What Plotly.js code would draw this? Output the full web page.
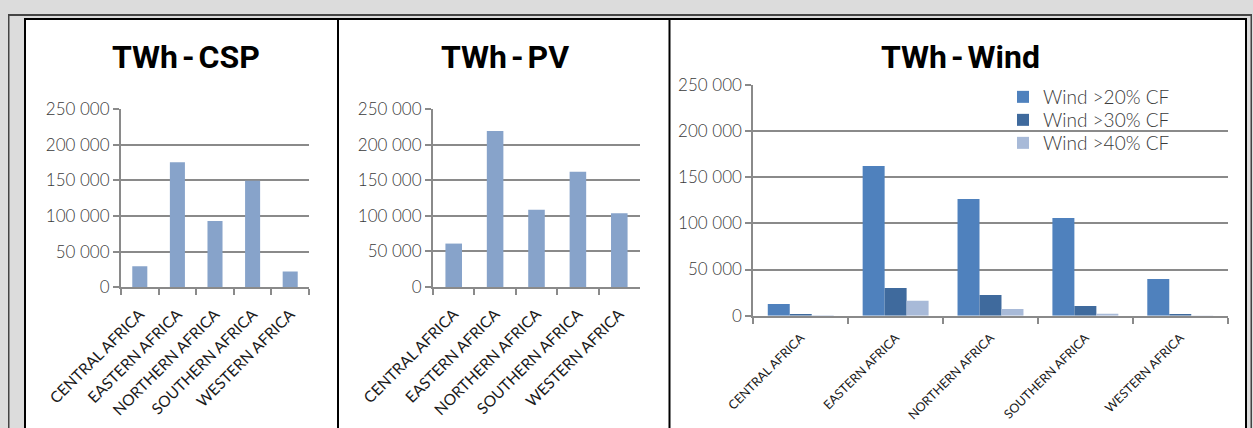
<!DOCTYPE html>
<html><head><meta charset="utf-8">
<script src="https://cdn.plot.ly/plotly-3.0.1.min.js"></script>
<style>
html,body{margin:0;padding:0;background:#dcdcdc;overflow:hidden}
.annotation-text{word-spacing:-4px}
</style>
</head><body><div id="chart" style="width:1253px;height:428px"></div>
<script>
const regions = ['CENTRAL AFRICA','EASTERN AFRICA','NORTHERN AFRICA','SOUTHERN AFRICA','WESTERN AFRICA'];
const cspTWh = [29500,175500,93000,149500,22000];
const pvTWh = [61000,219000,108500,162000,103500];
const wind20 = [12600,162000,126300,105700,39700];
const wind30 = [1800,30000,22400,10500,1800];
const wind40 = [500,16200,7200,2200,300];
const windNames = ['Wind >20% CF','Wind >30% CF','Wind >40% CF'];
const chartTitles = ['TWh - CSP','TWh - PV','TWh - Wind'];
const yTickVals = [0,50000,100000,150000,200000,250000];

const W = 1253, H = 428;
const px = x => x / W;
const py = y => 1 - y / H;

const FONT = 'Lato, "Open Sans", sans-serif';
const TFONT = 'Roboto, "DejaVu Sans Condensed", sans-serif';
const GRID = '#8a8a8a';

const soft = '#87a3ca';
const windColors = ['#4f81bd','#3f6a9d','#a8bad8'];

const traces = [
  {type:'bar', x:regions, y:cspTWh, xaxis:'x', yaxis:'y', width:0.4, marker:{color:soft}, showlegend:false, hoverinfo:'y'},
  {type:'bar', x:regions, y:pvTWh, xaxis:'x2', yaxis:'y2', width:0.4, marker:{color:soft}, showlegend:false, hoverinfo:'y'},
  {type:'bar', x:regions, y:wind20, name:windNames[0], xaxis:'x3', yaxis:'y3', legend:'legend', marker:{color:windColors[0]}},
  {type:'bar', x:regions, y:wind30, name:windNames[1], xaxis:'x3', yaxis:'y3', legend:'legend2', marker:{color:windColors[1]}},
  {type:'bar', x:regions, y:wind40, name:windNames[2], xaxis:'x3', yaxis:'y3', legend:'legend3', marker:{color:windColors[2]}}
];

function yax(top, bottom, anchor){
  return {domain:[py(bottom), py(top)], anchor:anchor, range:[0,250000], tickvals:yTickVals,
    tickformat:',', showgrid:true, gridcolor:GRID, gridwidth:2, zeroline:false,
    showline:true, linecolor:GRID, linewidth:2, ticks:'outside', ticklen:6, tickwidth:2, tickcolor:GRID,
    tickfont:{family:FONT, size:17, color:'#3a3a3a', weight:300}, fixedrange:true};
}
function xax(left, right, anchor, fs, standoff){
  return {domain:[px(left), px(right)], anchor:anchor, type:'category', showgrid:false, zeroline:false,
    showline:true, linecolor:GRID, linewidth:2, ticks:'outside', tickson:'boundaries', ticklen:6, tickwidth:2, tickcolor:GRID,
    tickangle:-45, ticklabelstandoff:standoff, tickfont:{family:FONT, size:fs, color:'#1a1a1a'}, fixedrange:true};
}

const shapes = [
  {type:'rect', xref:'paper', yref:'paper', x0:px(8), x1:px(1252), y0:py(16), y1:py(14), fillcolor:'#444', line:{width:0}, layer:'below'},
  {type:'rect', xref:'paper', yref:'paper', x0:px(8), x1:px(9.5), y0:py(440), y1:py(14), fillcolor:'#444', line:{width:0}, layer:'below'},
  {type:'rect', xref:'paper', yref:'paper', x0:px(1250.5), x1:px(1252), y0:py(440), y1:py(14), fillcolor:'#444', line:{width:0}, layer:'below'},
  {type:'rect', xref:'paper', yref:'paper', x0:px(25), x1:px(1246), y0:py(440), y1:py(19), fillcolor:'#ffffff', line:{color:'#000', width:2}, layer:'below'},
  {type:'line', xref:'paper', yref:'paper', x0:px(338), x1:px(338), y0:py(440), y1:py(19), line:{color:'#000', width:2}, layer:'below'},
  {type:'line', xref:'paper', yref:'paper', x0:px(669.5), x1:px(669.5), y0:py(440), y1:py(19), line:{color:'#000', width:2}, layer:'below'}
];

const titleX = [185.5, 505, 960];
const annotations = chartTitles.map((t,i)=>({text:'<b>'+t+'</b>', xref:'paper', yref:'paper', x:px(titleX[i]), y:py(57),
  xanchor:'center', yanchor:'middle', showarrow:false, font:{family:TFONT, size:32, color:'#000'}}));

function leg(yc){
  return {x:px(1003), y:py(yc), xanchor:'left', yanchor:'middle', bgcolor:'rgba(0,0,0,0)', borderwidth:0,
    font:{family:FONT, size:19, color:'#3a3a3a', weight:300}};
}

const layout = {
  width:W, height:H, margin:{l:0,r:0,t:0,b:0,pad:0},
  paper_bgcolor:'#dcdcdc', plot_bgcolor:'rgba(0,0,0,0)',
  separators:'. ', barmode:'group', bargap:0.305, bargroupgap:0,
  xaxis:xax(121,309,'y',15.5,10), yaxis:yax(109,287.3,'x'),
  xaxis2:xax(433,640,'y2',15.5,10), yaxis2:yax(109,287,'x2'),
  xaxis3:xax(753.3,1227.7,'y3',12.5,8), yaxis3:yax(84.7,315.7,'x3'),
  showlegend:true,
  legend:leg(97), legend2:leg(120), legend3:leg(143),
  shapes:shapes, annotations:annotations
};
Plotly.newPlot('chart', traces, layout, {displayModeBar:false, staticPlot:true});
</script></body></html>
